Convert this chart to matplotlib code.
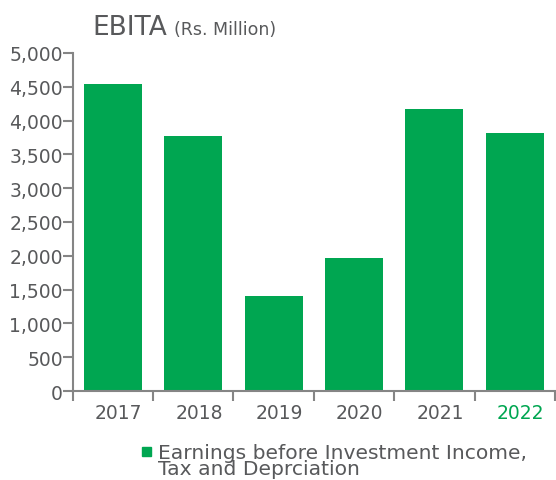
import numpy as np
import matplotlib
matplotlib.use('Agg')
import matplotlib.pyplot as plt
from matplotlib.patches import Rectangle

# === Data ===
YEARS = ['2017', '2018', '2019', '2020', '2021', '2022']
EBITA = [4540, 3772, 1405, 1967, 4172, 3817]
Y_TICKS = [0, 500, 1000, 1500, 2000, 2500, 3000, 3500, 4000, 4500, 5000]
LEGEND_LABEL = 'Earnings before Investment Income,\nTax and Deprciation'

# === Style ===
GREEN = '#00A651'
TEXT = '#58595B'
AXIS = '#858585'
FONT = 'DejaVu Sans'

W, H, DPI = 556, 481, 100

fig = plt.figure(figsize=(W / DPI, H / DPI), dpi=DPI)
ax = fig.add_axes([72.7 / W, 1 - 392 / H, (555 - 72.7) / W, (392 - 54) / H])

x = np.arange(len(YEARS))
ax.bar(x, EBITA, width=0.72, color=GREEN, zorder=2)

ax.set_xlim(-0.5, len(YEARS) - 0.5)
ax.set_ylim(0, 5000)

for side in ['top', 'right']:
    ax.spines[side].set_visible(False)
for side in ['left', 'bottom']:
    ax.spines[side].set_color(AXIS)
    ax.spines[side].set_linewidth(1.5)

# y ticks
ax.set_yticks(Y_TICKS)
ax.set_yticklabels([f'{v:,}' for v in Y_TICKS], fontsize=13.5, color=TEXT,
                   family=FONT)
ax.tick_params(axis='y', direction='out', length=7, width=1.5, color=AXIS, pad=0)

# x ticks at category boundaries, labels centred
ax.set_xticks(np.arange(len(YEARS) + 1) - 0.5)
ax.set_xticklabels([])
ax.tick_params(axis='x', direction='out', length=7, width=1.5, color=AXIS)
for i, yr in enumerate(YEARS):
    ax.text(i + 0.07, -0.035, yr, transform=ax.get_xaxis_transform(),
            ha='center', va='top', fontsize=13.5, family=FONT,
            color=GREEN if yr == '2022' else TEXT)

# title
fig.text(92 / W, 1 - 35 / H, 'EBITA', fontsize=19, color=TEXT, family=FONT,
         ha='left', va='baseline')
fig.text(174 / W, 1 - 35 / H, '(Rs. Million)', fontsize=12.5, color=TEXT,
         family=FONT, ha='left', va='baseline')

# legend
fig.patches.append(Rectangle((142 / W, 1 - 457 / H), 9 / W, 9 / H,
                             transform=fig.transFigure, color=GREEN))
fig.text(158 / W, 1 - 444 / H, LEGEND_LABEL, fontsize=14.6, color=TEXT,
         family=FONT, ha='left', va='top', linespacing=0.78)

fig.savefig('out.png', dpi=DPI)
